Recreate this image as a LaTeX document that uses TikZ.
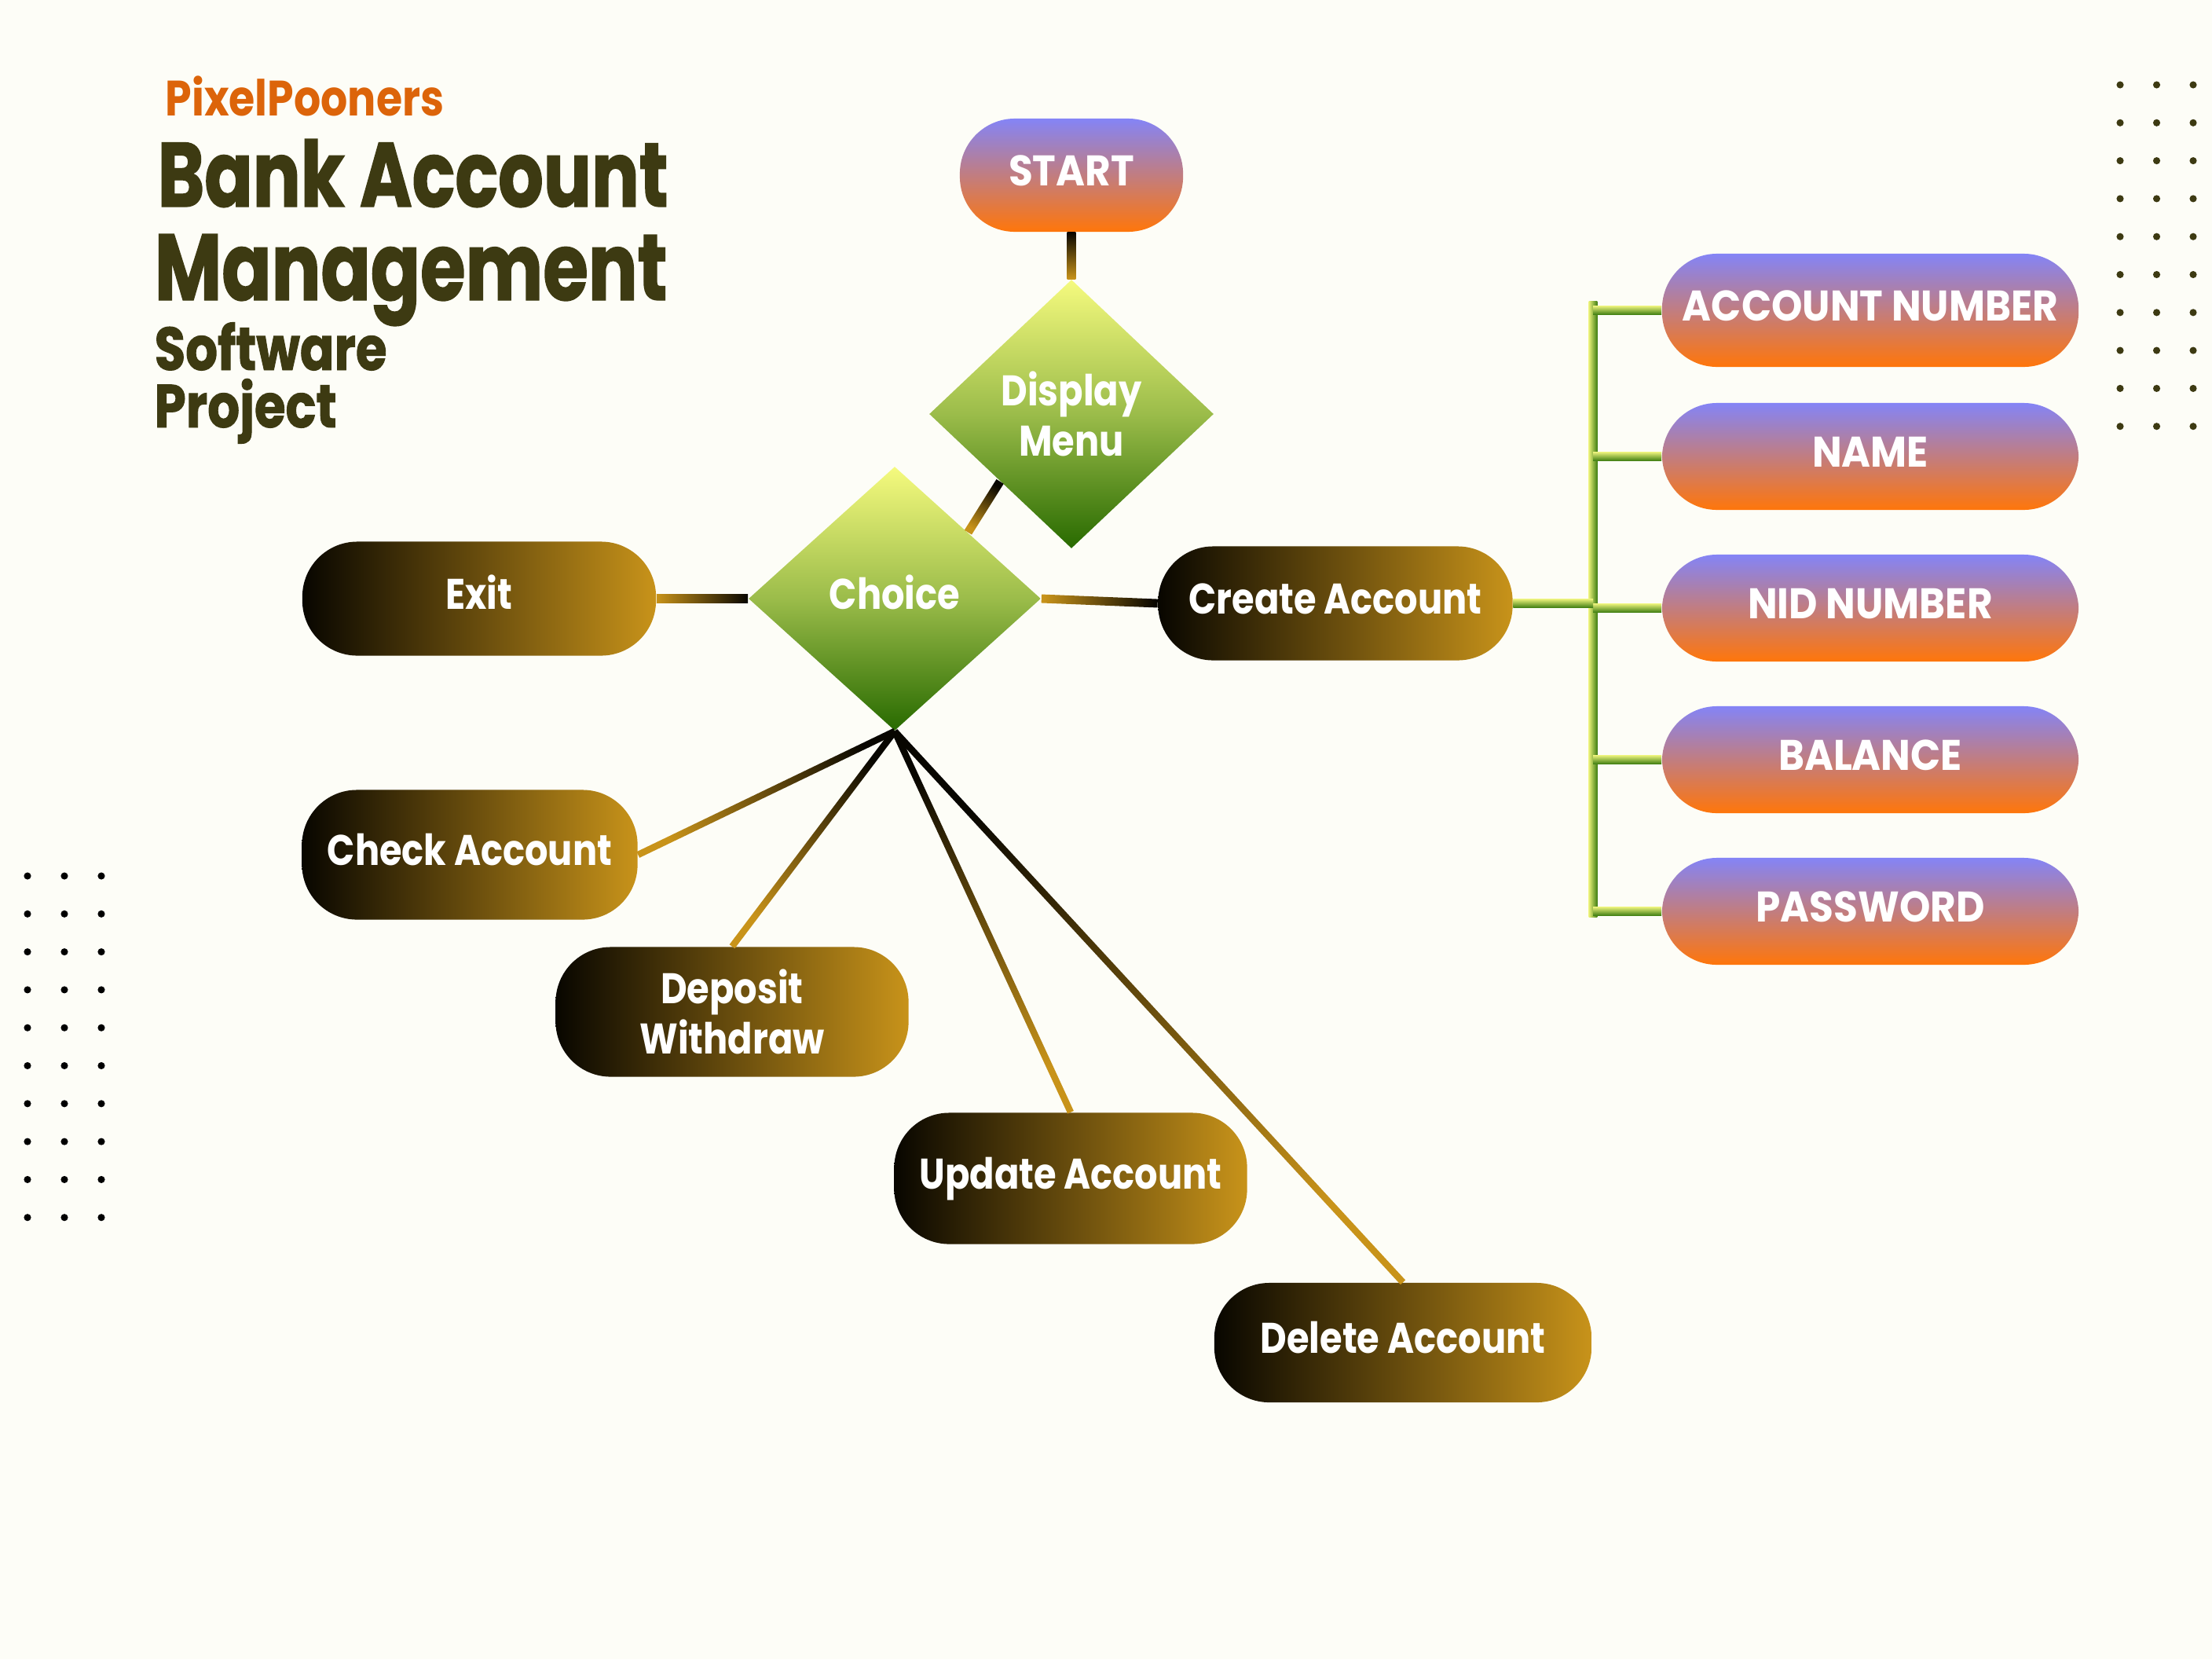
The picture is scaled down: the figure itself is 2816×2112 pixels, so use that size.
\documentclass[tikz,border=0pt]{standalone}
\usepackage{fontspec}
\setmainfont{Poppins}
\newfontfamily\headfont{Poppins}[FakeStretch=0.78, FakeBold=1.2]
\newfontfamily\subfont{Poppins}[FakeStretch=0.83, FakeBold=1.2]
\newfontfamily\boxfont{Poppins}[FakeStretch=0.85]
\newfontfamily\capsfont{Poppins}[FakeStretch=0.92]
\usetikzlibrary{shapes.geometric,calc}
\definecolor{paper}{HTML}{FDFDF7}
\definecolor{ink}{HTML}{3D3A12}
\definecolor{brand}{HTML}{DC640A}
\definecolor{lav}{HTML}{8484F6}
\definecolor{tang}{HTML}{FF760A}
\definecolor{umber}{HTML}{080600}
\definecolor{gold}{HTML}{C8931A}
\definecolor{lime}{HTML}{F5FA7E}
\definecolor{leaf}{HTML}{9BBC4A}
\definecolor{moss}{HTML}{286A00}
\definecolor{stemhi}{HTML}{E8F07A}
\definecolor{stemlo}{HTML}{3F7E12}

\newcommand{\gline}[3][1.55pt]{%
  \path (#2) coordinate (gA) (#3) coordinate (gB);
  \pgfmathanglebetweenpoints{\pgfpointanchor{gA}{center}}{\pgfpointanchor{gB}{center}}%
  \pgfmathsetmacro{\gang}{\pgfmathresult-90}%
  \shade[bottom color=umber, top color=gold, shading angle=\gang]
    ($(gA)!#1!90:(gB)$) -- ($(gA)!#1!-90:(gB)$) -- ($(gB)!#1!90:(gA)$) -- ($(gB)!#1!-90:(gA)$) -- cycle;}

\begin{document}
\begin{tikzpicture}[x=0.01cm, y=-0.01cm,
  pill/.style={rectangle, rounded corners=0.7cm, inner sep=0pt, text=white, align=center,
    text height=11pt, text depth=3.5pt, font=\boxfont\bfseries\fontsize{15.5}{18}\selectfont},
  twoline/.style={text height=, text depth=},
  field/.style={pill, top color=lav, bottom color=tang, minimum width=5.3cm, minimum height=1.36cm,
    font=\capsfont\bfseries\fontsize{15.5}{18}\selectfont},
  action/.style={pill, left color=umber, right color=gold, minimum height=1.45cm},
  choicebox/.style={diamond, inner sep=0pt, text=white, align=center,
    font=\boxfont\bfseries\fontsize{15.5}{18}\selectfont,
    top color=lime, bottom color=moss, middle color=leaf},
  vbar/.style={left color=stemhi, right color=stemlo},
  hbar/.style={top color=stemhi, bottom color=stemlo},
  title/.style={anchor=base west, inner sep=0pt, text=ink}]
\fill[paper] (0,0) rectangle (2816,2112);
\useasboundingbox (0,0) rectangle (2816,2112);

\foreach \c in {0,1,2} \foreach \r in {0,...,9} {
  \fill[ink] (2699+46.5*\c, 108+48.3*\r) circle[radius=1.3pt];
  \fill[black] (35+47*\c, 1115+48.3*\r) circle[radius=1.3pt];
}

\node[title, text=brand, font=\boxfont\bfseries\fontsize{18}{18}\selectfont] (brand) at (210,147) {PixelPooners};
\node[title, font=\headfont\bfseries\fontsize{33}{33}\selectfont] (t1) at (200,263) {Bank Account};
\node[title, font=\headfont\bfseries\fontsize{34}{34}\selectfont] (t2) at (196,382) {Management};
\node[title, font=\subfont\bfseries\fontsize{22}{22}\selectfont] (t3) at (196,471) {Software};
\node[title, font=\subfont\bfseries\fontsize{22}{22}\selectfont] (t4) at (196,544) {Project};

\node[field, minimum width=2.84cm, minimum height=1.44cm] (st) at (1364,223) {START};
\node[choicebox, minimum width=3.62cm, minimum height=3.42cm] (dm) at (1364,527) {Display\\Menu};
\node[choicebox, text height=11pt, text depth=3.5pt, minimum width=3.72cm, minimum height=3.36cm] (ch) at (1139,762) {Choice};

\node[action, minimum width=4.5cm] (ex) at (610,762) {Exit};
\node[action, minimum width=4.51cm] (ca) at (1700,768) {Create Account};
\node[action, minimum width=4.27cm, minimum height=1.65cm] (ck) at (598,1088) {Check Account};
\node[action, twoline, minimum width=4.49cm, minimum height=1.65cm] (dw) at (932,1288) {Deposit\\Withdraw};
\node[action, minimum width=4.49cm, minimum height=1.67cm] (ua) at (1363,1500) {Update Account};
\node[action, minimum width=4.8cm, minimum height=1.52cm] (da) at (1786,1709) {Delete Account};

\node[field, minimum height=1.44cm] (an) at (2381,395) {ACCOUNT NUMBER};
\node[field] (nm) at (2381,581) {NAME};
\node[field] (nid) at (2381,774) {NID NUMBER};
\node[field] (bal) at (2381,967) {BALANCE};
\node[field] (pw) at (2381,1160) {PASSWORD};

\gline{st.south}{dm.north}
\gline{dm.south west}{ch.north east}
\gline{ch.west}{ex.east}
\gline{ca.west}{ch.east}
\foreach \t/\a in {ck/east, dw/north, ua/north, da/north} {\gline[1.2pt]{ch.south}{\t.\a}}

\coordinate (bt) at (2028,383);
\coordinate (bb) at (2028,1167);
\shade[vbar] ($(bt)+(-1.55pt,0)$) rectangle ($(bb)+(1.55pt,0)$);
\foreach \f in {an,nm,nid,bal,pw}
  \shade[hbar] ($(bt |- \f.west)+(0,1.55pt)$) rectangle ($(\f.west)+(0,-1.55pt)$);
\shade[hbar] ($(ca.east)+(0,1.55pt)$) rectangle ($(bt |- ca.east)+(0,-1.55pt)$);
\end{tikzpicture}
\end{document}
